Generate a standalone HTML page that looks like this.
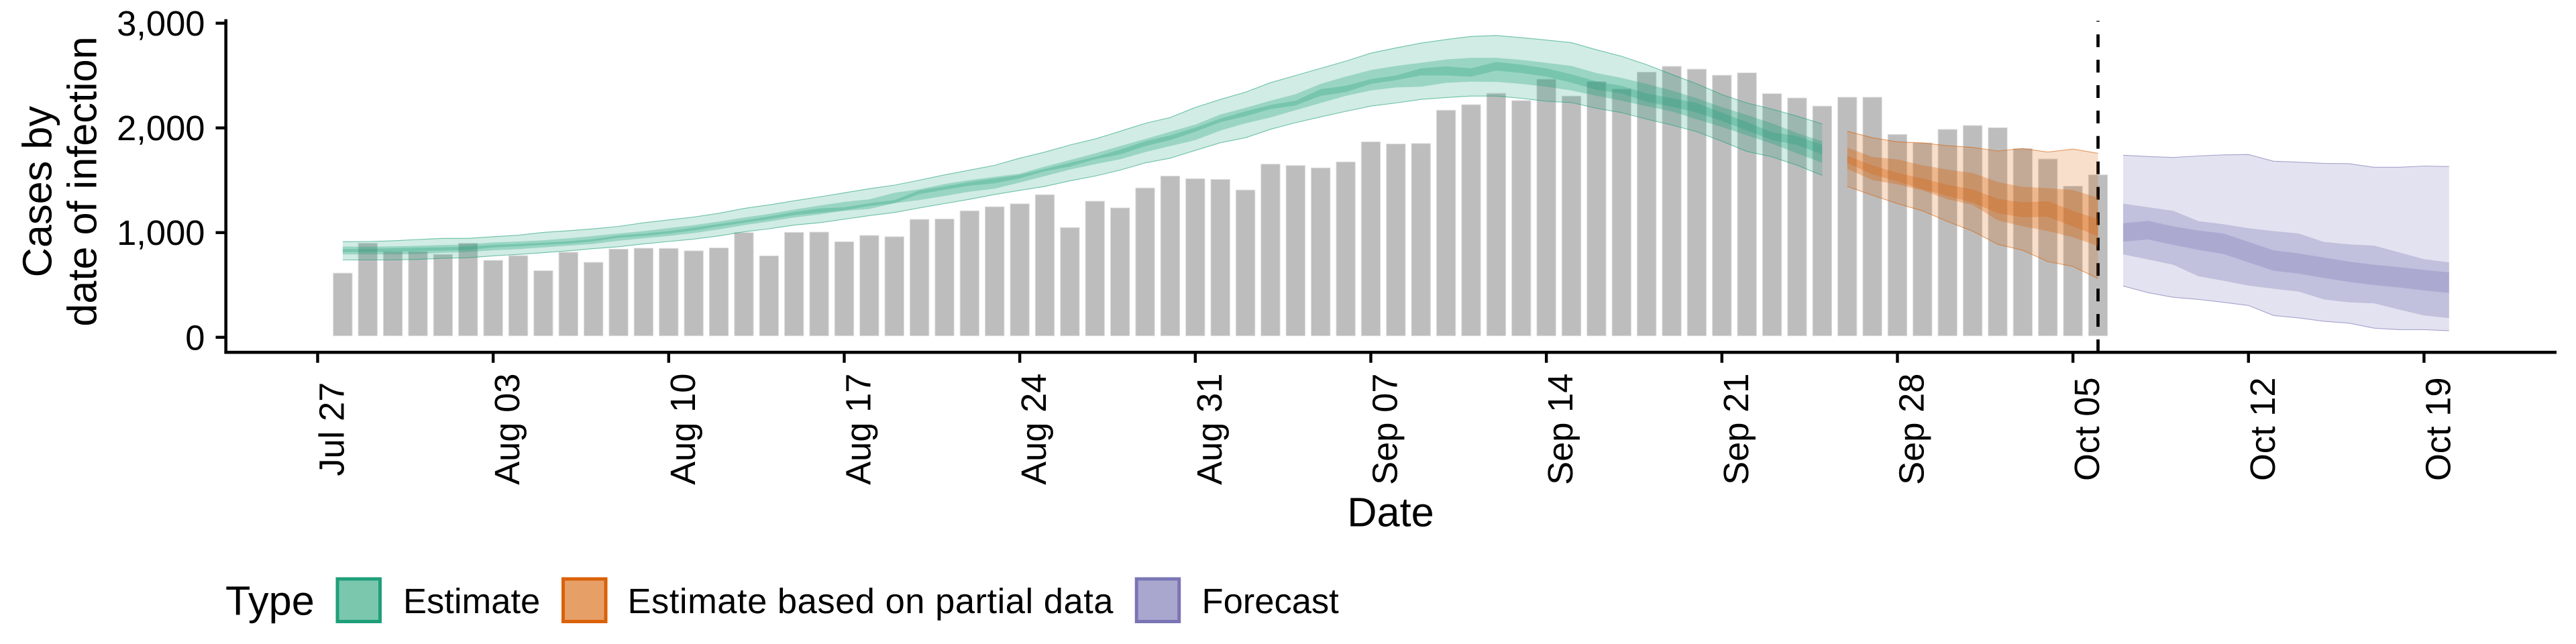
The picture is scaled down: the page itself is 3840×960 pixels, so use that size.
<!DOCTYPE html>
<html lang="en">
<head>
<meta charset="utf-8">
<title>Cases by date of infection</title>
<style>
html,body{margin:0;padding:0;background:#fff;}
svg{display:block;}
text{font-family:"Liberation Sans",Arial,sans-serif;fill:#000;text-rendering:geometricPrecision;}
</style>
</head>
<body>
<svg id="chart" width="3840" height="960" viewBox="0 0 3840 960" xmlns="http://www.w3.org/2000/svg">
  <rect x="0" y="0" width="3840" height="960" fill="#fff"/>
  <g id="bars"></g>
  <g id="vline"></g>
  <g id="ribbons"></g>
  <g id="axes"></g>
  <text font-size="61.25" text-anchor="middle" transform="translate(76.5,285.7) rotate(-90)">Cases by</text>
  <text font-size="61.25" text-anchor="middle" transform="translate(143.5,270.5) rotate(-90)">date of infection</text>
  <text font-size="61.25" text-anchor="middle" x="2073" y="784.3">Date</text>
  <g>
    <text font-size="61.25" x="336" y="916.7">Type</text>
    <g>
      <rect x="503" y="863" width="63.5" height="63.5" fill="#7ac7ae" stroke="#1f9f79" stroke-width="5"/>
      <text font-size="52.5" x="601" y="914">Estimate</text>
    </g>
    <g>
      <rect x="839.5" y="863" width="63.5" height="63.5" fill="#e79f68" stroke="#da6107" stroke-width="5"/>
      <text font-size="52.5" x="935.5" y="914" textLength="724" lengthAdjust="spacing">Estimate based on partial data</text>
    </g>
    <g>
      <rect x="1694.2" y="863" width="63.5" height="63.5" fill="#aaa7cf" stroke="#7a75b5" stroke-width="5"/>
      <text font-size="52.5" x="1791.5" y="914">Forecast</text>
    </g>
  </g>
</svg>
<script>
// ---- data: days are counted from Jul 27 ----
const xTickDays = [0, 7, 14, 21, 28, 35, 42, 49, 56, 63, 70, 77, 84];
const xTickLabels = ["Jul 27","Aug 03","Aug 10","Aug 17","Aug 24","Aug 31","Sep 07","Sep 14","Sep 21","Sep 28","Oct 05","Oct 12","Oct 19"];
const yTickValues = [0, 1000, 2000, 3000];
const yTickLabels = ["0","1,000","2,000","3,000"];
const forecastMarkerDay = [71];

const reportedFirstDay = 1;
const reportedCases = [613,899,819,819,792,899,735,780,636,812,716,842,851,849,826,854,1000,778,1002,1005,913,973,961,1126,1130,1208,1247,1275,1362,1048,1300,1236,1426,1540,1515,1508,1407,1654,1641,1618,1675,1867,1847,1851,2169,2222,2330,2261,2465,2304,2442,2371,2533,2588,2561,2503,2526,2327,2286,2208,2293,2293,1938,1858,1986,2023,2002,1803,1703,1444,1552];

const estimateFirstDay = 1;
const estimateUpper90 = [913,915,922,934,945,945,961,975,1002,1018,1036,1059,1094,1121,1149,1185,1231,1265,1304,1341,1380,1419,1453,1501,1551,1597,1643,1711,1769,1837,1894,1968,2043,2100,2196,2272,2341,2432,2501,2569,2638,2714,2764,2810,2844,2874,2883,2862,2839,2814,2746,2684,2604,2512,2421,2318,2238,2180,2112,2039];
const estimateLower90 = [739,739,739,744,755,760,778,792,808,826,847,865,892,915,938,968,1007,1036,1071,1094,1128,1162,1192,1236,1277,1318,1364,1403,1441,1494,1540,1597,1666,1711,1785,1858,1906,1986,2050,2105,2158,2208,2238,2272,2290,2304,2304,2283,2254,2242,2187,2146,2084,2027,1963,1872,1775,1723,1643,1547];
const estimateUpper50 = [867,865,869,874,881,888,906,915,927,945,968,991,1014,1043,1071,1105,1144,1178,1220,1258,1293,1318,1380,1414,1464,1501,1533,1563,1631,1693,1757,1826,1894,1963,2032,2128,2192,2260,2322,2421,2489,2553,2592,2622,2654,2670,2670,2650,2622,2592,2524,2478,2421,2357,2283,2199,2123,2043,1952,1872];
const estimateLower50 = [792,792,792,796,808,815,831,842,858,876,892,922,945,968,995,1030,1071,1105,1144,1174,1208,1226,1281,1311,1350,1391,1419,1478,1540,1602,1654,1700,1769,1826,1883,1975,2043,2100,2169,2238,2306,2357,2386,2393,2430,2441,2439,2421,2393,2357,2306,2260,2208,2158,2082,2009,1929,1849,1757,1666];
const estimateUpper20 = [842,844,851,856,860,865,883,892,904,917,938,972,991,1014,1048,1082,1117,1155,1197,1231,1242,1281,1311,1403,1441,1483,1517,1551,1608,1666,1723,1792,1872,1929,2002,2089,2158,2219,2260,2370,2402,2466,2501,2569,2588,2569,2631,2604,2569,2512,2444,2402,2329,2283,2238,2146,2055,1959,1922,1837];
const estimateLower20 = [815,815,819,824,828,835,858,869,883,895,917,952,968,991,1020,1059,1094,1128,1167,1190,1213,1254,1281,1368,1409,1448,1471,1517,1586,1631,1700,1746,1826,1883,1963,2055,2112,2180,2215,2306,2341,2421,2455,2501,2501,2489,2547,2524,2489,2432,2364,2329,2249,2203,2146,2066,1975,1883,1837,1746];

const partialFirstDay = 61;
const partialUpper90 = [1968,1906,1867,1856,1830,1814,1780,1803,1769,1798,1757];
const partialLower90 = [1441,1357,1277,1208,1105,1014,888,831,723,677,561];
const partialUpper50 = [1814,1723,1700,1643,1602,1570,1483,1437,1425,1407,1334];
const partialLower50 = [1608,1501,1460,1403,1318,1265,1117,1059,1014,956,872];
const partialUpper20 = [1734,1643,1570,1517,1457,1412,1322,1288,1300,1208,1128];
const partialLower20 = [1666,1556,1489,1414,1350,1288,1185,1146,1151,1059,968];

const forecastFirstDay = 72;
const forecastUpper90 = [1739,1727,1718,1732,1743,1746,1682,1673,1661,1659,1624,1624,1636,1631];
const forecastLower90 = [490,426,382,362,334,304,208,185,153,135,87,73,73,62];
const forecastUpper50 = [1277,1242,1208,1110,1080,1041,1014,991,911,888,876,812,746,716];
const forecastLower50 = [792,744,693,583,540,494,464,437,362,334,325,265,208,183];
const forecastUpper20 = [1089,1112,1059,1020,991,911,831,801,762,723,693,670,643,620];
const forecastLower20 = [915,934,883,835,796,716,636,609,567,529,499,476,448,423];

// ---- axis functions ----
function xScale(day){ return 473.5 + 37.38 * day; }
function yScale(value){ return 502.8 - 0.15607 * value; }

const NS = 'http://www.w3.org/2000/svg';
function make(tag, parent, attrs){
  const el = document.createElementNS(NS, tag);
  for (const k in attrs) el.setAttribute(k, attrs[k]);
  parent.appendChild(el);
  return el;
}

// ---- bars ----
const barsGroup = document.getElementById('bars');
reportedCases.forEach(function(value, i){
  const cx = xScale(reportedFirstDay + i);
  const top = yScale(value);
  const bottom = yScale(0) - 2.2;
  const el = make('rect', barsGroup, {x: cx - 14.2, y: top, width: 28.4, height: bottom - top, fill: '#bdbdbd', stroke: '#dedede', 'stroke-width': 1});
  
  
});

// ---- dashed marker ----
const markerGroup = document.getElementById('vline');
forecastMarkerDay.forEach(function(day){
  const el = make('line', markerGroup, {x1: xScale(day), x2: xScale(day), y1: 525, y2: 31, stroke: '#000', 'stroke-width': 4.7, 'stroke-dasharray': '19 18.9'});
  
  
});

// ---- ribbons ----
const ribbonsGroup = document.getElementById('ribbons');
function linePoints(firstDay, values){
  return values.map(function(v, i){ return xScale(firstDay + i).toFixed(1) + ',' + yScale(v).toFixed(1); });
}
function drawBand(firstDay, upper, lower, color, opacity){
  const pts = linePoints(firstDay, upper).concat(linePoints(firstDay, lower).reverse());
  return make('polygon', ribbonsGroup, {points: pts.join(' '), fill: color, 'fill-opacity': opacity, stroke: 'none'});
}
function drawEdge(firstDay, values, color){
  return make('polyline', ribbonsGroup, {points: linePoints(firstDay, values).join(' '), fill: 'none', stroke: color, 'stroke-opacity': 0.6, 'stroke-width': 1.1});
}

let piece;
piece = drawBand(estimateFirstDay, estimateUpper90, estimateLower90, '#1B9E77', 0.2);


piece = drawEdge(estimateFirstDay, estimateUpper90, '#1B9E77');


piece = drawEdge(estimateFirstDay, estimateLower90, '#1B9E77');


piece = drawBand(estimateFirstDay, estimateUpper50, estimateLower50, '#1B9E77', 0.3);


piece = drawBand(estimateFirstDay, estimateUpper20, estimateLower20, '#1B9E77', 0.28);



piece = drawBand(partialFirstDay, partialUpper90, partialLower90, '#D95F02', 0.2);


piece = drawEdge(partialFirstDay, partialUpper90, '#D95F02');


piece = drawEdge(partialFirstDay, partialLower90, '#D95F02');


piece = drawBand(partialFirstDay, partialUpper50, partialLower50, '#D95F02', 0.3);


piece = drawBand(partialFirstDay, partialUpper20, partialLower20, '#D95F02', 0.28);



piece = drawBand(forecastFirstDay, forecastUpper90, forecastLower90, '#7570B3', 0.2);


piece = drawEdge(forecastFirstDay, forecastUpper90, '#7570B3');


piece = drawEdge(forecastFirstDay, forecastLower90, '#7570B3');


piece = drawBand(forecastFirstDay, forecastUpper50, forecastLower50, '#7570B3', 0.3);


piece = drawBand(forecastFirstDay, forecastUpper20, forecastLower20, '#7570B3', 0.28);



// ---- axes ----
const axesGroup = document.getElementById('axes');
const axisLeft = 336.7, axisBottom = 525.2, axisTop = 28.6, axisRight = 3811;
const yAxisLine = make('line', axesGroup, {x1: axisLeft, x2: axisLeft, y1: axisTop, y2: axisBottom + 2.3, stroke: '#000', 'stroke-width': 4.6});


const xAxisLine = make('line', axesGroup, {x1: axisLeft - 2.3, x2: axisRight, y1: axisBottom, y2: axisBottom, stroke: '#000', 'stroke-width': 4.6});



yTickValues.forEach(function(value, i){
  const y = yScale(value);
  const tick = make('line', axesGroup, {x1: 321.5, x2: axisLeft, y1: y, y2: y, stroke: '#000', 'stroke-width': 4.4});
  
  
  const label = make('text', axesGroup, {x: 305.5, y: y + 18.5, 'font-size': 52.5, 'text-anchor': 'end'});
  label.textContent = yTickLabels[i];
  
  
});

xTickDays.forEach(function(day, i){
  const x = xScale(day);
  const tick = make('line', axesGroup, {x1: x, x2: x, y1: axisBottom, y2: 540.8, stroke: '#000', 'stroke-width': 4.4});
  
  
  const label = make('text', axesGroup, {'font-size': 52.5, 'text-anchor': 'middle', transform: 'translate(' + (x + 39) + ',639.7) rotate(-90)'});
  label.textContent = xTickLabels[i];
  
  
});
</script>
</body>
</html>
